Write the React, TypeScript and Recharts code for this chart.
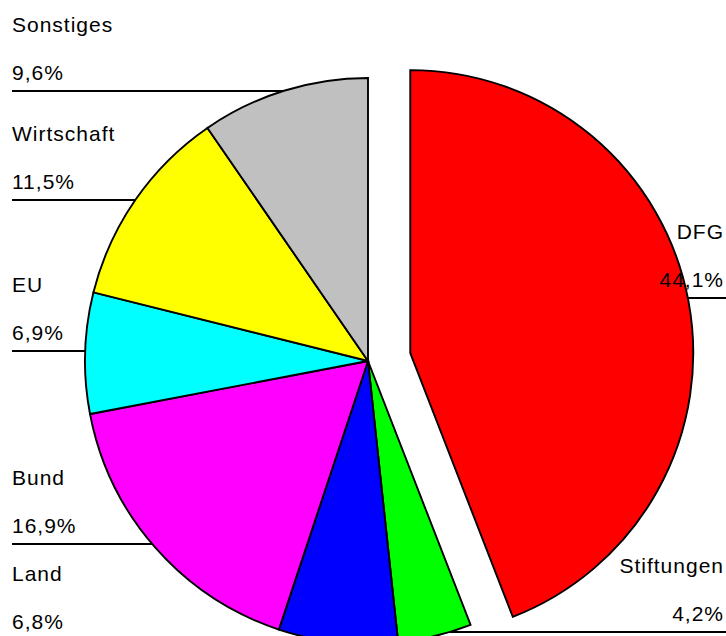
import { PieChart, Pie, Cell } from 'recharts';

const names = ['DFG', 'Stiftungen', 'Land', 'Bund', 'EU', 'Wirtschaft', 'Sonstiges'];
const shares = [44.1, 4.2, 6.8, 16.9, 6.9, 11.5, 9.6];
const colors = ['#ff0000', '#00ff00', '#0000ff', '#ff00ff', '#00ffff', '#ffff00', '#c0c0c0'];

// label layout: y of each leader line and on which side the text sits
const labelLineY = [298, 632, 640, 544, 351, 200, 91];
const labelSide = ['right', 'right', 'left', 'left', 'left', 'left', 'left'];

const data = names.map((name, i) => ({ name, value: shares[i] }));

const CX = 368;
const CY = 361;
const R = 283;
const EXPLODE = 43;

// DFG slice is pulled out along its mid angle
const total = shares.reduce((a, b) => a + b, 0);
const dfgMid = 90 - (360 * shares[0]) / total / 2;
const dfgDx = EXPLODE * Math.cos((dfgMid * Math.PI) / 180);
const dfgDy = -EXPLODE * Math.sin((dfgMid * Math.PI) / 180);

const font = { fontFamily: '"Liberation Sans", Arial, sans-serif', fontSize: 21, letterSpacing: 1 };
const fmt = (v: number) => v.toFixed(1).replace('.', ',') + '%';

function renderLabel(props: any) {
  const index: number = props.index;
  const cx = (props.cx ?? CX) + (index === 0 ? dfgDx : 0);
  const cy = (props.cy ?? CY) + (index === 0 ? dfgDy : 0);
  const r = props.outerRadius ?? R;
  const ly = labelLineY[index];
  const half = Math.sqrt(Math.max(r * r - (ly - cy) * (ly - cy), 0));
  const right = labelSide[index] === 'right';
  const tx = right ? 724 : 12;
  const anchor = right ? 'end' : 'start';
  return (
    <g key={`lbl-${index}`}>
      <line
        x1={right ? cx + half : 12}
        x2={right ? 726 : cx - half}
        y1={ly}
        y2={ly}
        stroke="#000"
        strokeWidth={2}
      />
      <text x={tx} y={ly - 59} textAnchor={anchor} fill="#000" {...font}>{names[index]}</text>
      <text x={tx} y={ly - 11} textAnchor={anchor} fill="#000" {...font}>{fmt(shares[index])}</text>
    </g>
  );
}

export default function App() {
  return (
    <div style={{ position: 'absolute', left: 0, top: 0, width: 726, height: 636, background: '#fff' }}>
      <PieChart width={726} height={636} margin={{ top: 0, right: 0, bottom: 0, left: 0 }}>
        <Pie
          data={data}
          dataKey="value"
          nameKey="name"
          cx={CX + dfgDx}
          cy={CY + dfgDy}
          outerRadius={R}
          startAngle={90}
          endAngle={-270}
          isAnimationActive={false}
          label={false}
          labelLine={false}
        >
          {data.map((d, i) => (
            <Cell
              key={d.name}
              fill={i === 0 ? colors[i] : 'none'}
              stroke={i === 0 ? '#000' : 'none'}
              strokeWidth={1.9}
            />
          ))}
        </Pie>
        <Pie
          data={data}
          dataKey="value"
          nameKey="name"
          cx={CX}
          cy={CY}
          outerRadius={R}
          startAngle={90}
          endAngle={-270}
          isAnimationActive={false}
          label={renderLabel}
          labelLine={false}
        >
          {data.map((d, i) => (
            <Cell
              key={d.name}
              fill={i === 0 ? 'none' : colors[i]}
              stroke={i === 0 ? 'none' : '#000'}
              strokeWidth={1.9}
            />
          ))}
        </Pie>
      </PieChart>
    </div>
  );
}
